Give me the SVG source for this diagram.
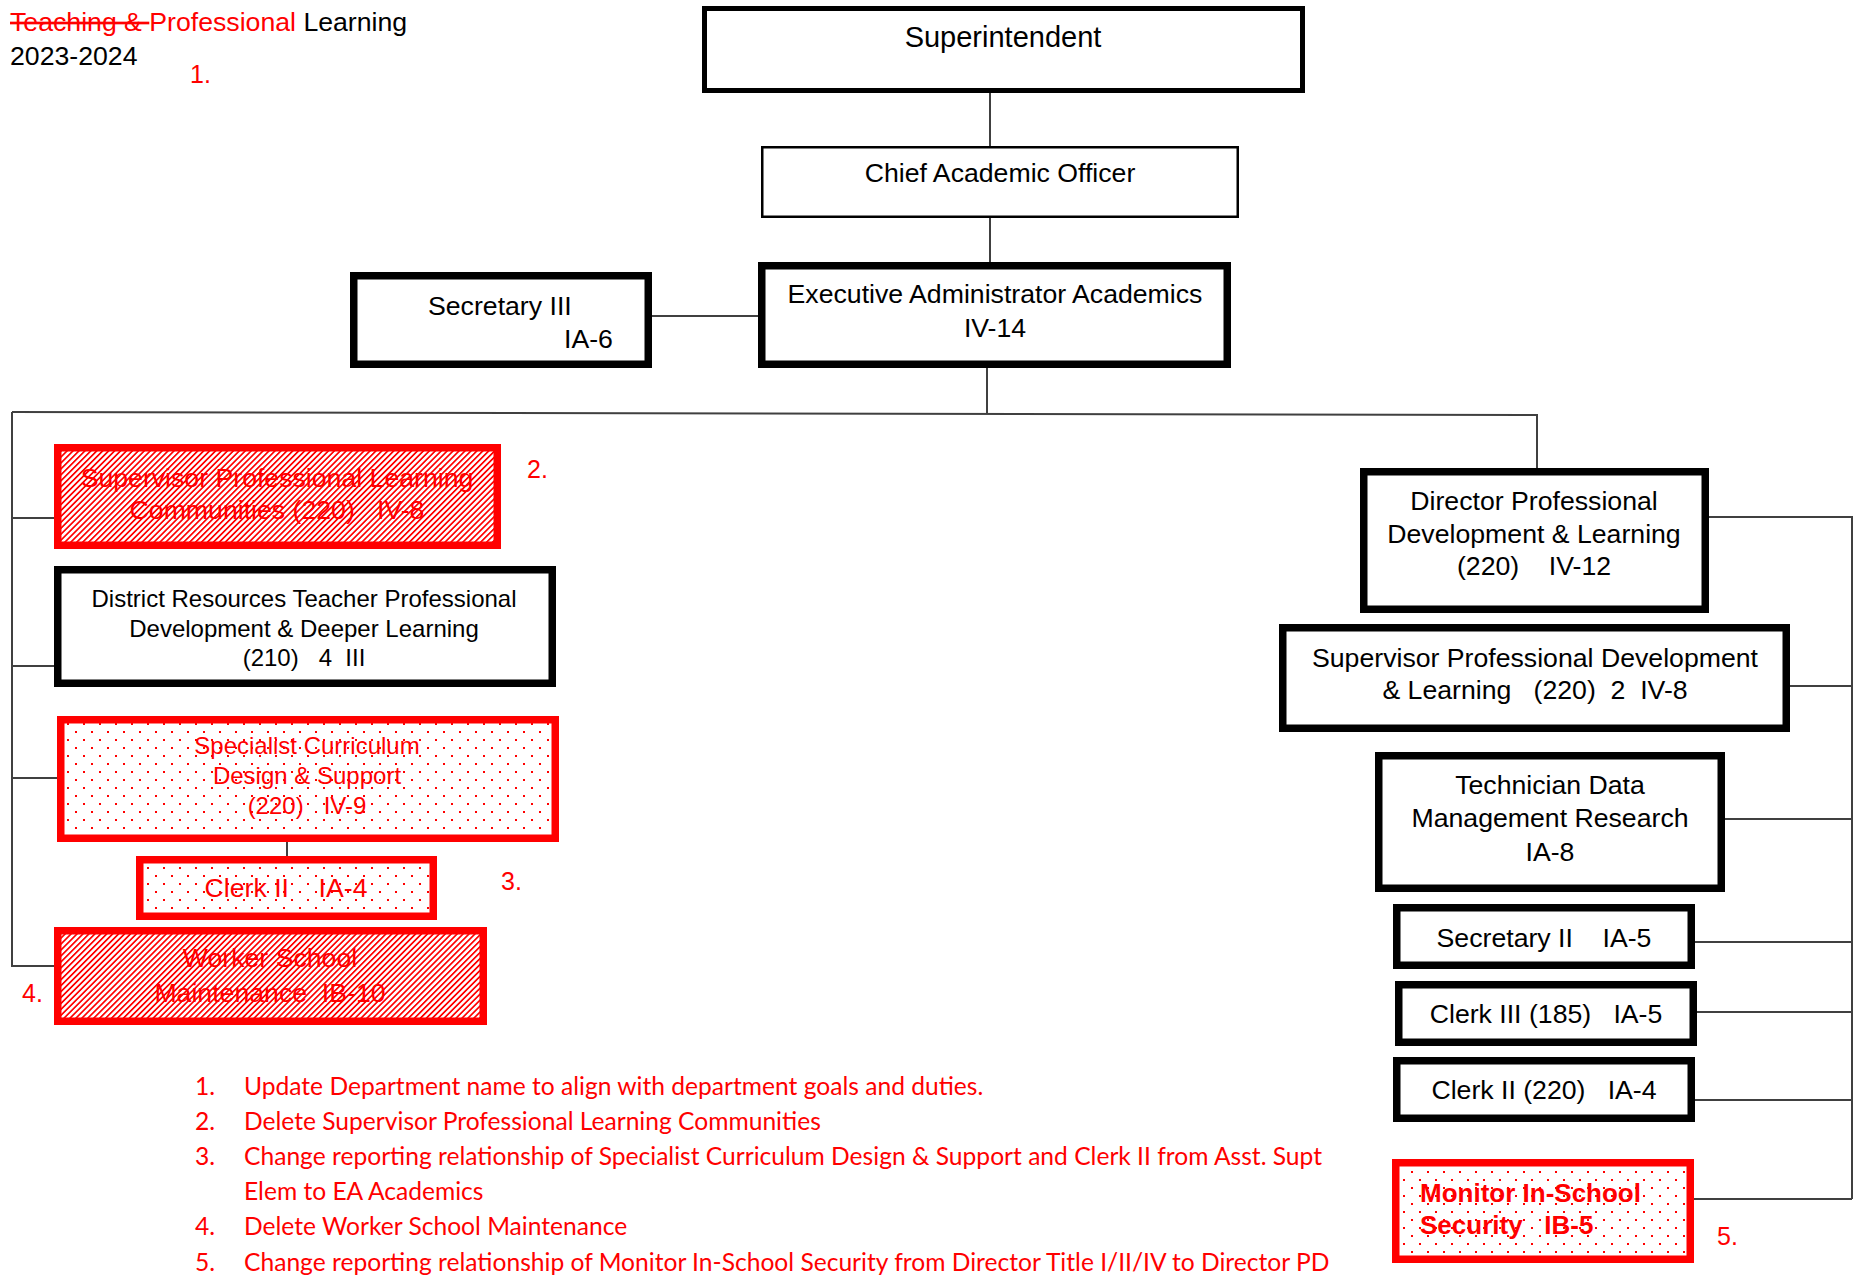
<svg xmlns="http://www.w3.org/2000/svg" width="1855" height="1275" viewBox="0 0 1855 1275">
<defs>
<pattern id="hatch" patternUnits="userSpaceOnUse" width="4.2" height="4.2" patternTransform="rotate(45)">
<rect width="4.2" height="4.2" fill="#fff"/>
<rect x="0" y="0" width="1.7" height="4.2" fill="#ff0000"/>
</pattern>
<pattern id="dots" patternUnits="userSpaceOnUse" width="16" height="16">
<rect width="16" height="16" fill="#fff"/>
<rect x="3" y="3" width="2" height="2" fill="#ff0000"/>
<rect x="11" y="11" width="2" height="2" fill="#ff0000"/>
</pattern>
</defs>
<style>
text{font-family:"Liberation Sans",Arial,sans-serif;white-space:pre}
.t{font-size:26.67px;fill:#000;text-anchor:middle}
.s{font-size:24px}
.r{fill:#ff0000}
.box{fill:#fff;stroke:#000;stroke-width:7.5}
.rbox{stroke:#ff0000;stroke-width:7.5}
.conn line,.conn polyline{stroke:#404040;stroke-width:2;fill:none}
.note{font-family:Lato,"Liberation Sans",sans-serif;font-size:24.6px;fill:#ff0000}
.num{font-size:25px;fill:#ff0000}
</style>
<rect width="1855" height="1275" fill="#fff"/>

<g id="title">
<text x="10" y="31" font-size="26.67"><tspan fill="#ff0000" text-decoration="line-through">Teaching &amp; </tspan><tspan fill="#ff0000">Professional</tspan><tspan fill="#000"> Learning</tspan></text>
<text x="10" y="65" font-size="26.67" fill="#000">2023-2024</text>
</g>

<g class="conn" id="connectors">
<line x1="990" y1="93" x2="990" y2="146"/>
<line x1="990" y1="218" x2="990" y2="262"/>
<line x1="652" y1="316" x2="758" y2="316"/>
<line x1="987" y1="368" x2="987" y2="413"/>
<polyline points="12,412 1537,415 1537,468"/>
<line x1="12" y1="412" x2="12" y2="967"/>
<line x1="12" y1="518" x2="54" y2="518"/>
<line x1="12" y1="666" x2="54" y2="666"/>
<line x1="12" y1="778" x2="57" y2="778"/>
<line x1="12" y1="966" x2="54" y2="966"/>
<line x1="287" y1="842" x2="287" y2="856"/>
<polyline points="1709,517 1852,517 1852,1199"/>
<line x1="1790" y1="686" x2="1852" y2="686"/>
<line x1="1725" y1="819" x2="1852" y2="819"/>
<line x1="1695" y1="942" x2="1852" y2="942"/>
<line x1="1697" y1="1012" x2="1852" y2="1012"/>
<line x1="1695" y1="1100" x2="1852" y2="1100"/>
<line x1="1694" y1="1199" x2="1852" y2="1199"/>
</g>

<g id="superintendent">
<rect x="704.5" y="8.5" width="598" height="82" fill="#fff" stroke="#000" stroke-width="5"/>
<text class="t" x="1003" y="47" style="font-size:29px">Superintendent</text>
</g>
<g id="cao">
<rect x="762.25" y="147.25" width="475.5" height="69.5" fill="#fff" stroke="#000" stroke-width="2.5"/>
<text class="t" x="1000" y="182">Chief Academic Officer</text>
</g>
<g id="exec">
<rect class="box" x="761.75" y="265.75" width="465.5" height="98.5"/>
<text class="t" x="995" y="303">Executive Administrator Academics</text>
<text class="t" x="995" y="337">IV-14</text>
</g>
<g id="sec3">
<rect class="box" x="353.75" y="275.75" width="294.5" height="88.5"/>
<text x="428" y="315" font-size="26.67">Secretary III</text>
<text x="564" y="348" font-size="26.67">IA-6</text>
</g>

<g id="spl">
<rect class="rbox" x="57.75" y="447.75" width="439.5" height="97.5" fill="url(#hatch)"/>
<text class="t r" x="277" y="487">Supervisor Professional Learning</text>
<text class="t r" x="277" y="519">Communities (220)   IV-8</text>
</g>
<g id="district">
<rect class="box" x="57.75" y="569.75" width="494.5" height="113.5"/>
<text class="t s" x="304" y="607">District Resources Teacher Professional</text>
<text class="t s" x="304" y="637">Development &amp; Deeper Learning</text>
<text class="t s" x="304" y="666">(210)   4  III</text>
</g>
<g id="specialist">
<rect class="rbox" x="60.75" y="719.75" width="494.5" height="118.5" fill="url(#dots)"/>
<text class="t s r" x="307" y="754">Specialist Curriculum</text>
<text class="t s r" x="307" y="784">Design &amp; Support</text>
<text class="t s r" x="307" y="814">(220)   IV-9</text>
</g>
<g id="clerk2l">
<rect class="rbox" x="139.75" y="859.75" width="293.5" height="56.5" fill="url(#dots)"/>
<text class="t r" x="286" y="897">Clerk II    IA-4</text>
</g>
<g id="worker">
<rect class="rbox" x="57.75" y="930.75" width="425.5" height="90.5" fill="url(#hatch)"/>
<text class="t r" x="270" y="967">Worker School</text>
<text class="t r" x="270" y="1002">Maintenance  IB-10</text>
</g>

<g id="director">
<rect class="box" x="1363.75" y="471.75" width="341.5" height="137.5"/>
<text class="t" x="1534" y="510">Director Professional</text>
<text class="t" x="1534" y="543">Development &amp; Learning</text>
<text class="t" x="1534" y="575">(220)    IV-12</text>
</g>
<g id="suppd">
<rect class="box" x="1282.75" y="627.75" width="503.5" height="100.5"/>
<text class="t" x="1535" y="667">Supervisor Professional Development</text>
<text class="t" x="1535" y="699">&amp; Learning   (220)  2  IV-8</text>
</g>
<g id="tech">
<rect class="box" x="1378.75" y="755.75" width="342.5" height="132.5"/>
<text class="t" x="1550" y="794">Technician Data</text>
<text class="t" x="1550" y="827">Management Research</text>
<text class="t" x="1550" y="861">IA-8</text>
</g>
<g id="sec2">
<rect class="box" x="1396.75" y="907.75" width="294.5" height="57.5"/>
<text class="t" x="1544" y="947">Secretary II    IA-5</text>
</g>
<g id="clerk3">
<rect class="box" x="1398.75" y="984.75" width="294.5" height="57.5"/>
<text class="t" x="1546" y="1023">Clerk III (185)   IA-5</text>
</g>
<g id="clerk2r">
<rect class="box" x="1396.75" y="1060.75" width="294.5" height="57.5"/>
<text class="t" x="1544" y="1099">Clerk II (220)   IA-4</text>
</g>
<g id="monitor">
<rect class="rbox" x="1395.75" y="1162.75" width="294.5" height="96.5" fill="url(#dots)"/>
<text x="1420" y="1202" font-size="26" font-weight="bold" fill="#ff0000">Monitor In-School</text>
<text x="1420" y="1234" font-size="26" font-weight="bold" fill="#ff0000">Security   IB-5</text>
</g>

<g id="markers">
<text class="num" x="190" y="83">1.</text>
<text class="num" x="527" y="478">2.</text>
<text class="num" x="501" y="890">3.</text>
<text class="num" x="22" y="1002">4.</text>
<text class="num" x="1717" y="1245">5.</text>
</g>

<g id="notes">
<text class="note" x="195" y="1095">1.</text>
<text class="note" x="244" y="1095">Update Department name to align with department goals and duties.</text>
<text class="note" x="195" y="1130">2.</text>
<text class="note" x="244" y="1130">Delete Supervisor Professional Learning Communities</text>
<text class="note" x="195" y="1165">3.</text>
<text class="note" x="244" y="1165">Change reporting relationship of Specialist Curriculum Design &amp; Support and Clerk II from Asst. Supt</text>
<text class="note" x="244" y="1200">Elem to EA Academics</text>
<text class="note" x="195" y="1235">4.</text>
<text class="note" x="244" y="1235">Delete Worker School Maintenance</text>
<text class="note" x="195" y="1271">5.</text>
<text class="note" x="244" y="1271">Change reporting relationship of Monitor In-School Security from Director Title I/II/IV to Director PD</text>
</g>
</svg>
